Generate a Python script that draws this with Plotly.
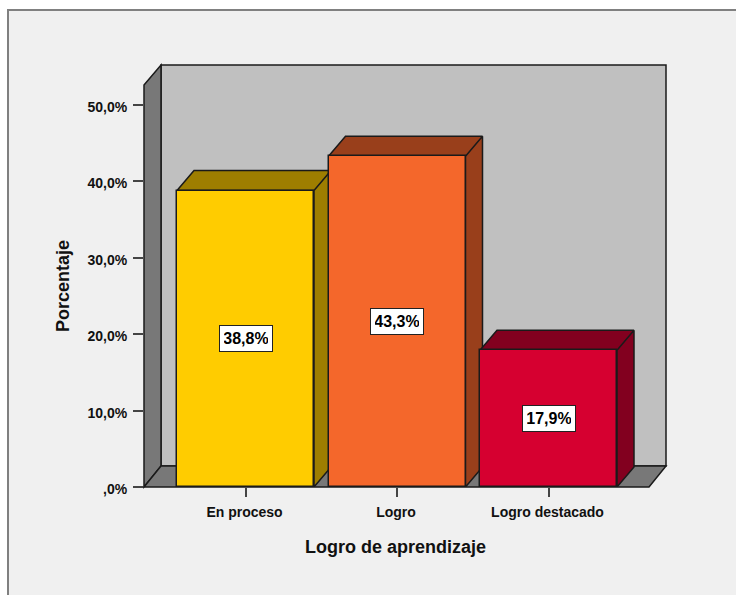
import plotly.graph_objects as go

categories = ["En proceso", "Logro", "Logro destacado"]
percentages = [38.8, 43.3, 17.9]
value_labels = ["38,8%", "43,3%", "17,9%"]
front_colors = ["#ffcc00", "#f4672b", "#d60030"]
shade_colors = ["#9e7e00", "#993f1b", "#82001f"]
y_ticks = [0, 10, 20, 30, 40, 50]
y_tick_labels = [",0%", "10,0%", "20,0%", "30,0%", "40,0%", "50,0%"]

W, H = 736, 595
L, R, T, B = 144, 666, 65, 487
PX_PER_CAT = 151.5
PX_PER_UNIT = 7.64
CENTER0 = 245.5
DX = 17 / PX_PER_CAT
DY = 20 / PX_PER_UNIT
BAR_W = 137 / PX_PER_CAT
EDGE = "#1a1a1a"
TXT = "#111111"
FONT = "Liberation Sans, Arial, sans-serif"


def px(x):
    return (x - L) / (R - L)


def py(y):
    return (B - y) / (B - T)


def path(points):
    return "M " + " L ".join(f"{px(a):.5f},{py(b):.5f}" for a, b in points) + " Z"


def wall(points, color):
    return dict(type="path", xref="paper", yref="paper", path=path(points),
                fillcolor=color, line=dict(color=EDGE, width=1.5), layer="below")


shapes = [
    dict(type="rect", xref="paper", yref="paper", x0=px(8), y0=py(640), x1=px(780), y1=py(10),
         fillcolor="#f0f0f0", line=dict(color="#808080", width=2), layer="below"),
    wall([(161, 65), (666, 65), (666, 466), (161, 466)], "#c0c0c0"),
    wall([(144, 85), (161, 65), (161, 466), (144, 487)], "#787878"),
    wall([(144, 487), (161, 466), (666, 466), (649, 487)], "#787878"),
]

fig = go.Figure()
for i, (cat, val) in enumerate(zip(categories, percentages)):
    xl, xr = i - BAR_W / 2, i + BAR_W / 2
    fig.add_trace(go.Scatter(
        x=[xl, xl + DX, xr + DX, xr, xr + DX, xr + DX, xr, xr, xl],
        y=[val, val + DY, val + DY, val, val + DY, DY, 0, val, val],
        mode="lines", fill="toself", fillcolor=shade_colors[i],
        line=dict(color=EDGE, width=1.5), hoverinfo="skip", showlegend=False,
        cliponaxis=False, zorder=2 * i,
    ))
    fig.add_trace(go.Bar(
        x=[i], y=[val], width=BAR_W, name=cat,
        marker=dict(color=front_colors[i], line=dict(color=EDGE, width=1.5)),
        cliponaxis=False, showlegend=False, zorder=2 * i + 1,
    ))

annotations = [
    dict(x=i, y=v / 2, text=f"<b>{t}</b>", showarrow=False, xref="x", yref="y",
         font=dict(family=FONT, size=16, color="#000000"), bgcolor="#ffffff",
         bordercolor="#222222", borderwidth=1, borderpad=4, width=44)
    for i, (v, t) in enumerate(zip(percentages, value_labels))
]
annotations += [
    dict(xref="paper", yref="paper", x=px(395.5), y=py(547), text="<b>Logro de aprendizaje</b>",
         showarrow=False, xanchor="center", yanchor="middle",
         font=dict(family=FONT, size=18, color=TXT)),
    dict(xref="paper", yref="paper", x=px(63), y=py(286), text="<b>Porcentaje</b>",
         showarrow=False, textangle=-90, xanchor="center", yanchor="middle",
         font=dict(family=FONT, size=18, color=TXT)),
]

fig.update_layout(
    width=W, height=H, autosize=False,
    margin=dict(l=L, r=W - R, t=T, b=H - B, pad=0),
    paper_bgcolor="#ffffff", plot_bgcolor="rgba(0,0,0,0)",
    shapes=shapes, annotations=annotations, showlegend=False,
    bargap=0,
    font=dict(family=FONT, color=TXT),
    xaxis=dict(
        range=[(L - CENTER0) / PX_PER_CAT, (R - CENTER0) / PX_PER_CAT],
        tickvals=list(range(len(categories))), ticktext=[f"<b>{c}</b>" for c in categories],
        ticks="outside", ticklen=9, tickwidth=2, tickcolor="#444444",
        tickfont=dict(family=FONT, size=14, color=TXT), ticklabelstandoff=3, ticklabelshift=-1,
        showgrid=False, zeroline=False, showline=False,
    ),
    yaxis=dict(
        range=[0, (B - T) / PX_PER_UNIT],
        tickvals=y_ticks, ticktext=[f"<b>{t}</b>" for t in y_tick_labels],
        ticks="outside", ticklen=10, tickwidth=2, tickcolor="#444444",
        tickfont=dict(family=FONT, size=14, color=TXT), ticklabelstandoff=3, ticklabelshift=2,
        showgrid=False, zeroline=False, showline=False,
    ),
)
fig.write_html(
    "out.html",
    config={"displayModeBar": False},
    post_script="document.body.style.margin='0';document.body.style.overflow='hidden';",
)
